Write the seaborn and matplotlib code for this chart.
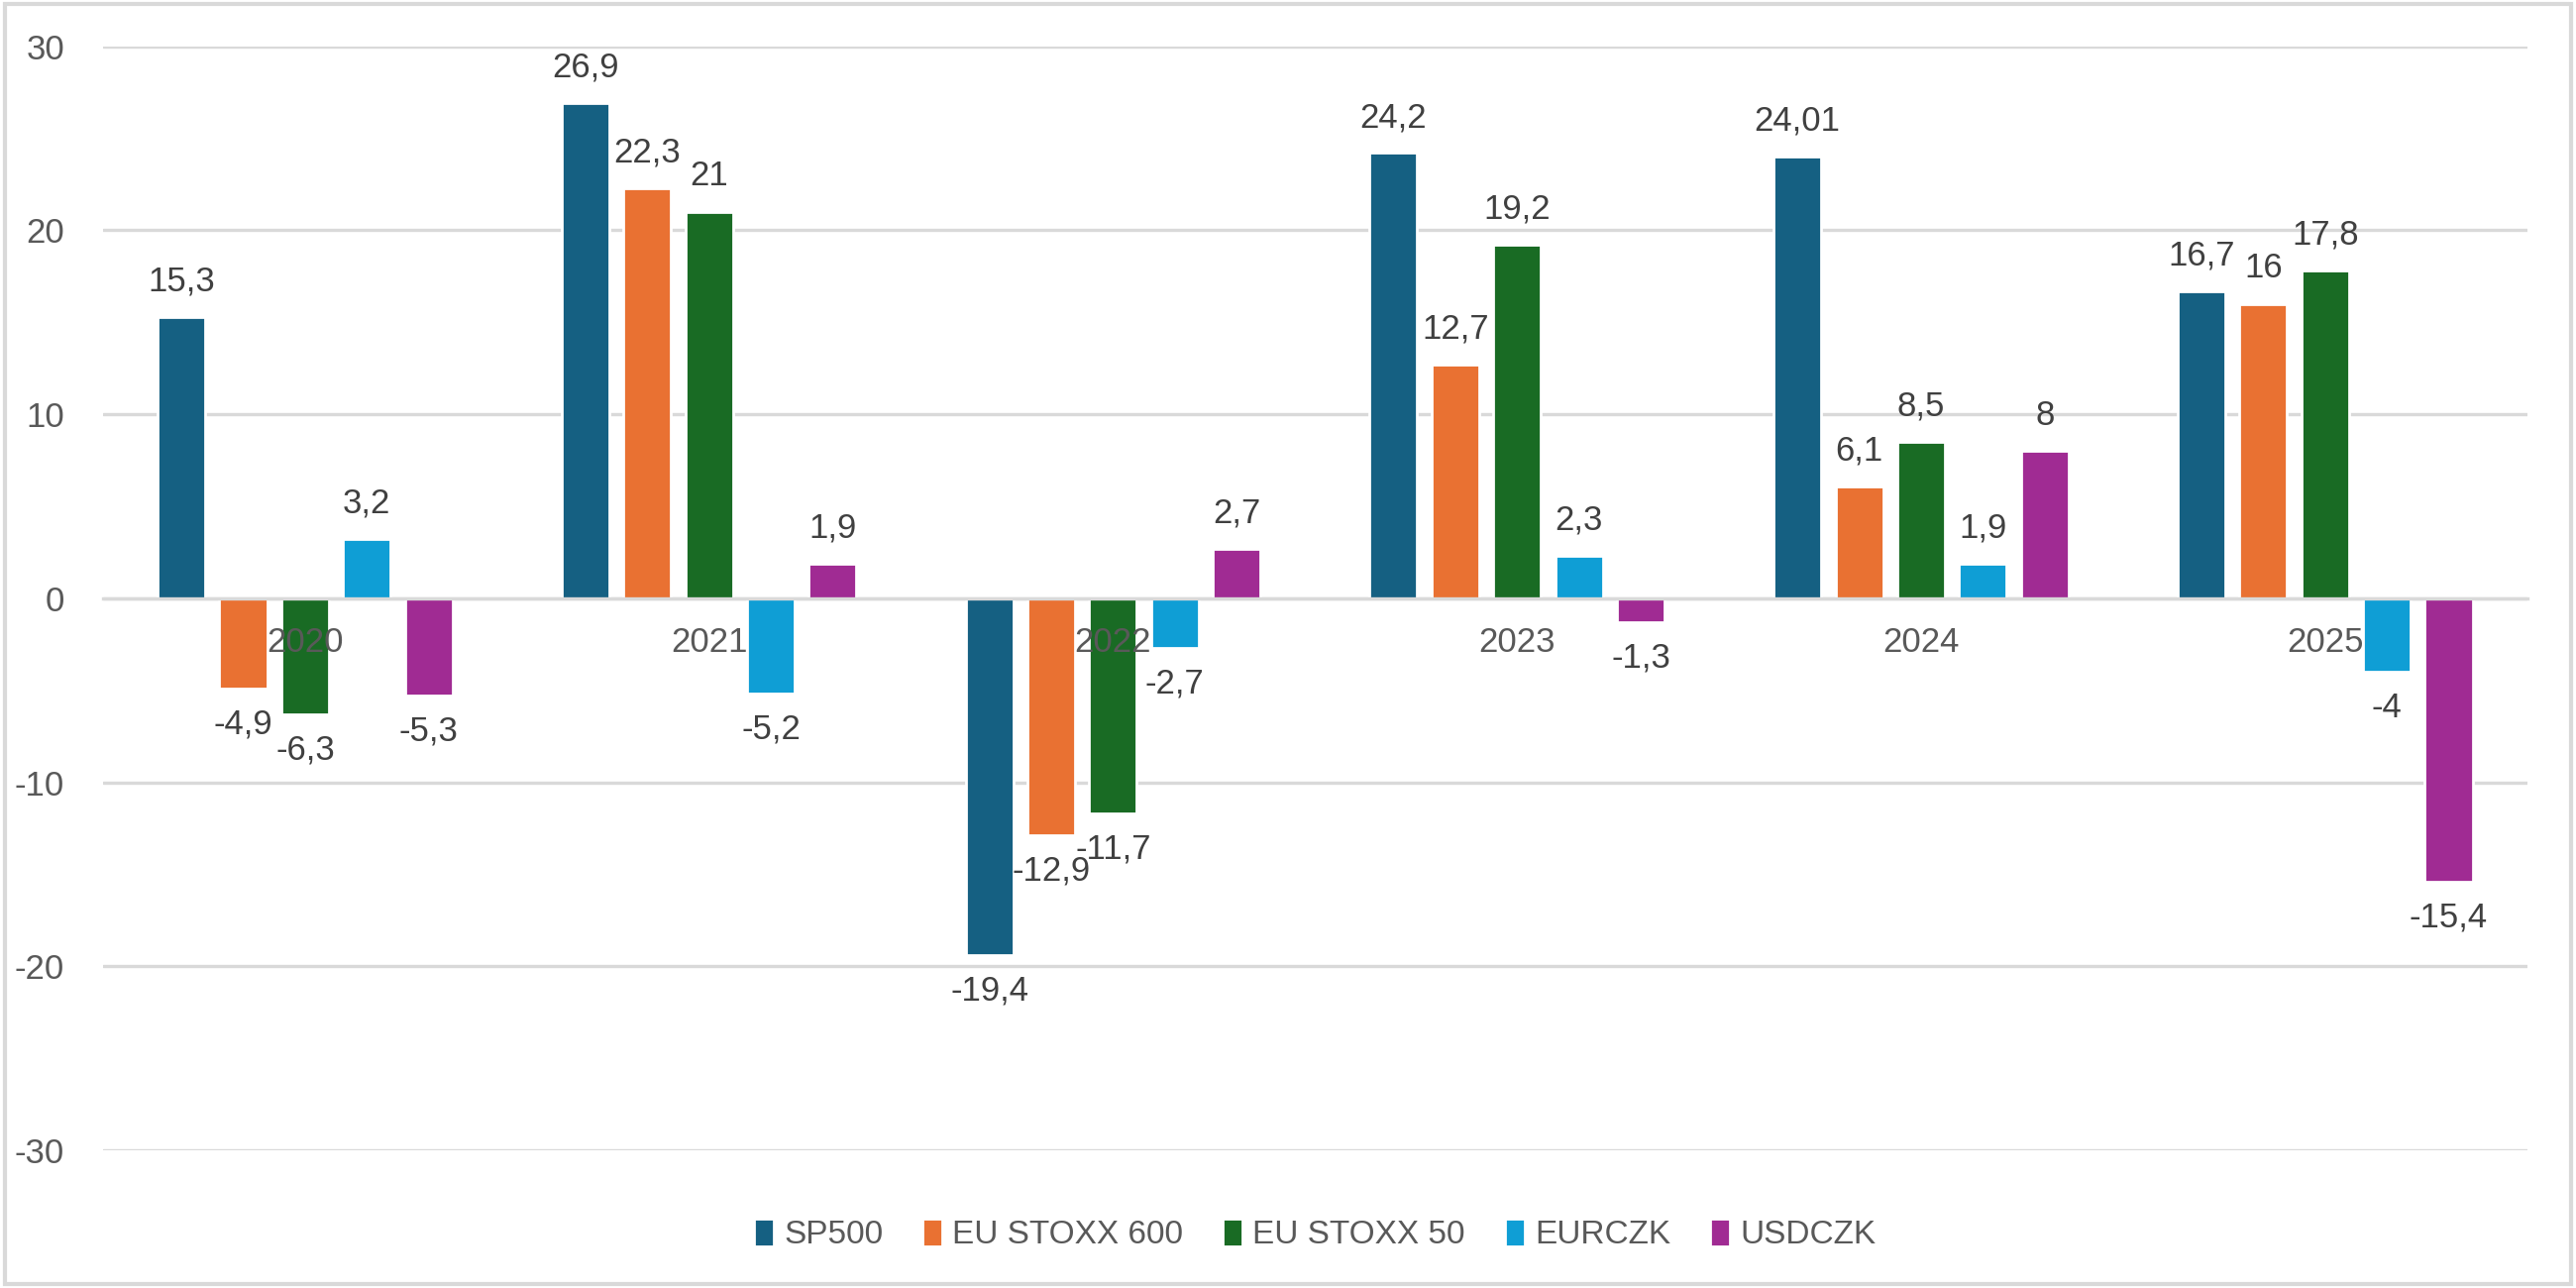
import pandas as pd
import matplotlib.pyplot as plt
import seaborn as sns
from matplotlib.patches import Rectangle

# Data
years = ['2020', '2021', '2022', '2023', '2024', '2025']
series_names = ['SP500', 'EU STOXX 600', 'EU STOXX 50', 'EURCZK', 'USDCZK']
sp500 = [15.3, 26.9, -19.4, 24.2, 24.01, 16.7]
stoxx600 = [-4.9, 22.3, -12.9, 12.7, 6.1, 16]
stoxx50 = [-6.3, 21, -11.7, 19.2, 8.5, 17.8]
eurczk = [3.2, -5.2, -2.7, 2.3, 1.9, -4]
usdczk = [-5.3, 1.9, 2.7, -1.3, 8, -15.4]
colors = ['#156082', '#E97132', '#196B24', '#0F9ED5', '#A02B93']

sns.set_theme(style='white')
plt.rcParams['font.family'] = ['Liberation Sans', 'DejaVu Sans']
plt.rcParams['axes.unicode_minus'] = False

# Long format table for seaborn
rows = []
for name, vals in zip(series_names, [sp500, stoxx600, stoxx50, eurczk, usdczk]):
    for y, v in zip(years, vals):
        rows.append({'year': y, 'series': name, 'value': v})
df = pd.DataFrame(rows)

fig = plt.figure(figsize=(13, 6.5), dpi=200)
ax = fig.add_axes([0.040, 0.107, 0.941, 0.857])

sns.barplot(data=df, x='year', y='value', hue='series', hue_order=series_names,
            palette=colors, width=0.765, gap=0.23, saturation=1, ax=ax,
            errorbar=None, legend=True)

# Value labels with decimal comma
text_col = '#404040'
for cont, name in zip(ax.containers, series_names):
    vals = df[df['series'] == name]['value'].tolist()
    labels = [f"{v:g}".replace('.', ',') for v in vals]
    ax.bar_label(cont, labels=labels, padding=7, fontsize=12.5, color=text_col)

ax.set_ylim(-30, 30)
ax.set_yticks(range(-30, 31, 10))
ax.set_xlim(-0.5, 5.5)
ax.set_xlabel('')
ax.set_ylabel('')
ax.yaxis.grid(True, color='#d9d9d9', linewidth=1.2)
ax.set_axisbelow(True)
ax.xaxis.set_zorder(5)

for s in ['top', 'right', 'left']:
    ax.spines[s].set_visible(False)
ax.spines['bottom'].set_position(('data', 0))
ax.spines['bottom'].set_color('#d9d9d9')
ax.spines['bottom'].set_linewidth(1.2)

ax.tick_params(axis='x', length=0, pad=10, labelsize=12.5, labelcolor='#595959')
ax.tick_params(axis='y', length=0, pad=14, labelsize=12.5, labelcolor='#595959')

handles, labs = ax.get_legend_handles_labels()
ax.legend(handles, labs, loc='upper center', bbox_to_anchor=(0.5, -0.035),
          ncol=5, frameon=False, fontsize=12, handlelength=0.6, handleheight=0.9,
          handletextpad=0.3, columnspacing=1.2, labelcolor='#595959')

# Light chart border
fig.patches.append(Rectangle((0.002, 0.003), 0.996, 0.994, transform=fig.transFigure,
                             fill=False, edgecolor='#d9d9d9', linewidth=1.5))

fig.savefig('out.png', dpi=200, facecolor='white')
